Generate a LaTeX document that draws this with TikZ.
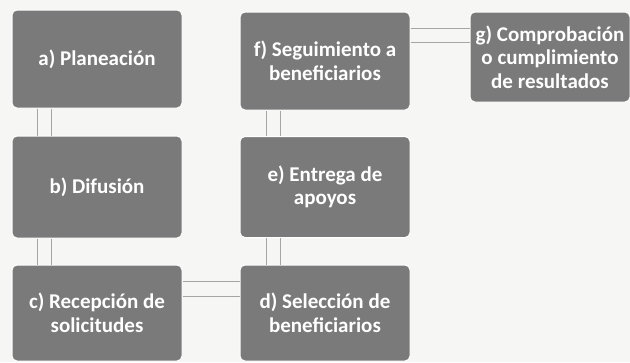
\documentclass[tikz,border=0pt]{standalone}
\usepackage{fontspec}
\setmainfont{Carlito}
\usepackage{xcolor}
\definecolor{boxgray}{RGB}{122,122,122}
\definecolor{paper}{RGB}{246,246,244}
\definecolor{linegray}{RGB}{165,165,165}

\begin{document}
\begin{tikzpicture}[x=1pt,y=-1pt]
\tikzstyle{etapa}=[rectangle,rounded corners=5pt,fill=boxgray,draw=white,line width=1pt,
  minimum width=170pt,minimum height=98pt,inner sep=0pt,align=center,text=white,
  font=\bfseries\fontsize{21}{23.5}\selectfont]
\tikzstyle{liga}=[draw=linegray,line width=0.7pt]
\fill [paper] (0,0) rectangle (630,362);
\useasboundingbox (0,0) rectangle (630,362);
\node [etapa] (a) at (97,59) {a) Planeación};
\node [etapa,minimum height=102pt] (b) at (97,187) {b) Difusión};
\node [etapa,minimum height=96pt] (c) at (97,313) {c) Recepción de\\solicitudes};
\node [etapa,minimum height=96pt] (d) at (325,313) {d) Selección de\\beneficiarios};
\node [etapa,minimum height=101pt] (e) at (325,187) {e) Entrega de\\apoyos};
\node [etapa] (f) at (325,61) {f) Seguimiento a\\beneficiarios};
\node [etapa,minimum width=160pt,minimum height=90pt] (g) at (550,57) {g) Comprobación\\o cumplimiento\\de resultados};
% double connectors
\foreach \s in {26,40}{
  \draw [liga] ([xshift=\s pt]a.south west) -- ([xshift=\s pt]b.north west);
  \draw [liga] ([xshift=\s pt]b.south west) -- ([xshift=\s pt]c.north west);
}
\foreach \s in {27,41}{
  \draw [liga] ([xshift=\s pt]d.north west) -- ([xshift=\s pt]e.south west);
  \draw [liga] ([xshift=\s pt]e.north west) -- ([xshift=\s pt]f.south west);
}
\foreach \s in {17,32}
  \draw [liga] ([yshift=-\s pt]c.north east) -- ([yshift=-\s pt]d.north west);
\foreach \s in {17,31}
  \draw [liga] ([yshift=-\s pt]f.north east) -- ([yshift=-\s pt]g.north west);
\end{tikzpicture}
\end{document}
